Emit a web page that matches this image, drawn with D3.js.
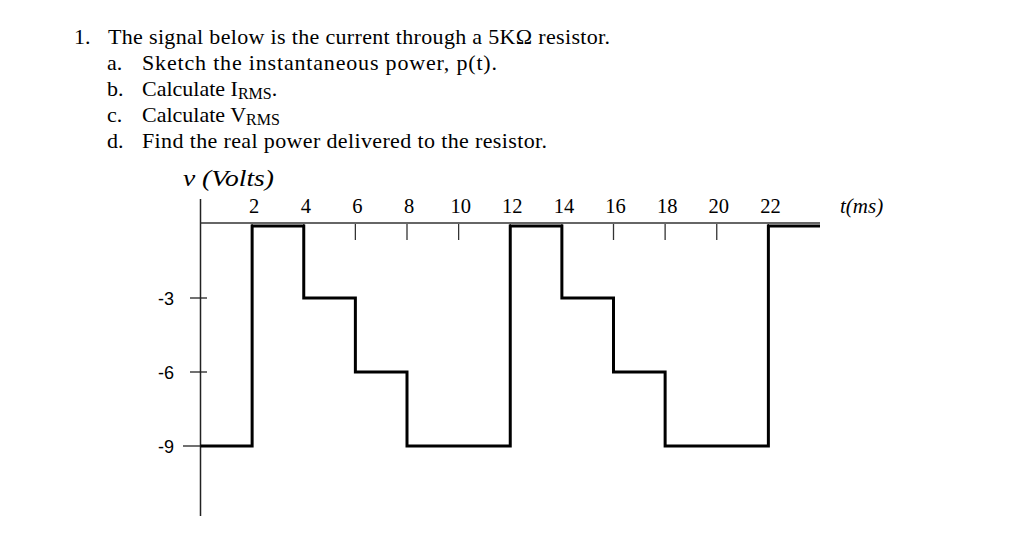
<!DOCTYPE html>
<html><head><meta charset="utf-8">
<script src="https://cdn.jsdelivr.net/npm/d3@7"></script>
<style>
body{margin:0;background:#fff;}
svg{display:block;}
text{font-family:"Liberation Serif","Times New Roman",serif;fill:#000;}
</style></head>
<body>
<svg id="c" width="1026" height="538"></svg>
<script>
const stepTimes = [0, 2, 4, 6, 8, 12, 14, 16, 18, 22, 24];
const stepValues = [-9, 0, -3, -6, -9, 0, -3, -6, -9, 0, 0];
const xTickValues = [2, 4, 6, 8, 10, 12, 14, 16, 18, 20, 22];
const yTickValues = [-3, -6, -9];
const questionLines = [
  {num: "1.", text: "The signal below is the current through a 5KΩ resistor.", sub: "", len: 502},
  {num: "a.", text: "Sketch the instantaneous power, p(t).", sub: "", len: 355},
  {num: "b.", text: "Calculate I", sub: "RMS", tail: "."},
  {num: "c.", text: "Calculate V", sub: "RMS", tail: ""},
  {num: "d.", text: "Find the real power delivered to the resistor.", sub: "", len: 405}
];

const svg = d3.select("#c");
const x = d3.scaleLinear().domain([0, 24]).range([200.5, 820]);
const y = d3.scaleLinear().domain([0, -9]).range([224, 446]);

// question text
questionLines.forEach((q, i) => {
  const by = 44 + i * 26;
  const nx = i === 0 ? 74 : 107;
  const tx = i === 0 ? 108 : 142;
  svg.append("text").attr("x", nx).attr("y", by).attr("font-size", 22).text(q.num);
  const t = svg.append("text").attr("x", tx).attr("y", by).attr("font-size", 22);
  if (q.len) t.attr("textLength", q.len).attr("lengthAdjust", "spacing");
  t.append("tspan").text(q.text);
  if (q.sub) {
    t.append("tspan").attr("font-size", 16).attr("dy", 3).text(q.sub);
    if (q.tail) t.append("tspan").attr("font-size", 22).attr("dy", -3).text(q.tail);
  }
});

// axes
svg.append("line").attr("x1", x(0)).attr("x2", x(0)).attr("y1", 199).attr("y2", 516)
  .attr("stroke", "#222").attr("stroke-width", 1.5);
svg.append("line").attr("x1", x(0)).attr("x2", x(24)).attr("y1", y(0) - 1).attr("y2", y(0) - 1)
  .attr("stroke", "#333").attr("stroke-width", 1.6);

// x ticks and labels
svg.selectAll(".xt").data(xTickValues).enter().append("line")
  .attr("x1", d => x(d)).attr("x2", d => x(d))
  .attr("y1", y(0)).attr("y2", y(0) + 16)
  .attr("stroke", "#333").attr("stroke-width", 1.3);
svg.selectAll(".xl").data(xTickValues).enter().append("text")
  .attr("x", d => x(d) + 2).attr("y", 213).attr("text-anchor", "middle")
  .attr("font-size", 20.5).text(d => d);

// y ticks and labels
svg.selectAll(".yt").data(yTickValues).enter().append("line")
  .attr("x1", d => d === -9 ? 183 : 190).attr("x2", 207)
  .attr("y1", d => y(d)).attr("y2", d => y(d))
  .attr("stroke", "#222").attr("stroke-width", 1.3);
svg.selectAll(".yl").data(yTickValues).enter().append("text")
  .attr("x", 174).attr("y", d => y(d) + 7).attr("text-anchor", "end")
  .style("font-family", "'Liberation Sans', Arial, sans-serif")
  .attr("font-size", 18).text(d => d);

// axis titles
svg.append("text").attr("x", 183).attr("y", 186).attr("font-size", 24)
  .attr("font-style", "italic").attr("textLength", 91).attr("lengthAdjust", "spacingAndGlyphs")
  .text("v (Volts)");
svg.append("text").attr("x", 840).attr("y", 213).attr("font-size", 21)
  .attr("font-style", "italic").text("t(ms)");

// signal
const pts = stepTimes.map((t, i) => [t, stepValues[i]]);
const line = d3.line().x(d => x(d[0])).y(d => y(d[1]) + (d[1] === 0 ? 2 : 0)).curve(d3.curveStepAfter);
svg.append("path").datum(pts).attr("d", line)
  .attr("fill", "none").attr("stroke", "#000").attr("stroke-width", 3);
</script>
</body></html>
